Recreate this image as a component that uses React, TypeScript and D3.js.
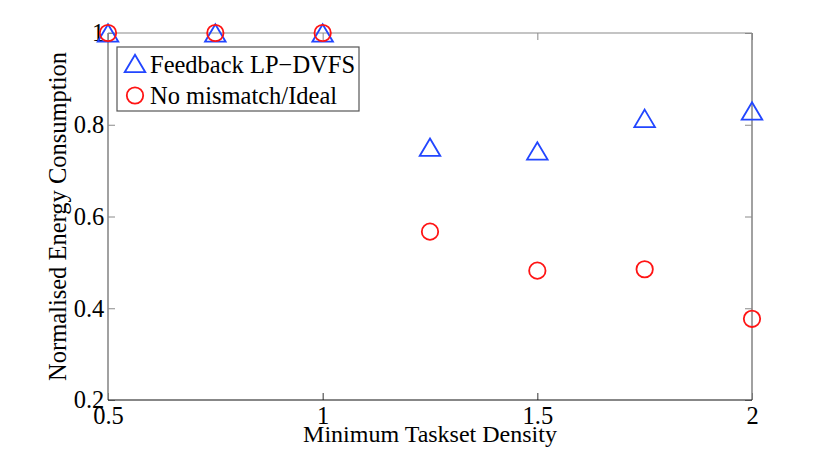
import { useRef, useEffect } from 'react'
import * as d3 from 'd3'

const densities = [0.5, 0.75, 1, 1.25, 1.5, 1.75, 2]
const feedbackEnergy = [1, 1, 1, 0.751, 0.743, 0.814, 0.83]
const idealEnergy = [1, 1, 1, 0.567, 0.482, 0.485, 0.377]
const xTicks = [0.5, 1, 1.5, 2]
const yTicks = [0.2, 0.4, 0.6, 0.8, 1]
const seriesNames = ['Feedback LP\u2212DVFS', 'No mismatch/Ideal']

const W = 830
const H = 451
const FONT = '"Liberation Serif", "Times New Roman", serif'
const BLUE = '#2246ff'
const RED = '#ff1414'
const FRAME = '#8a8a8a'

// matlab-ish '^' marker, bbox centred on the point
const trianglePath = 'M0,-8.7L10.3,8.7L-10.3,8.7Z'

export default function App() {
  const svgRef = useRef<SVGSVGElement>(null)

  useEffect(() => {
    if (!svgRef.current) return
    const svg = d3.select(svgRef.current)
    svg.selectAll('*').remove()

    const margin = { top: 33, right: 78, bottom: 51, left: 108 }
    const x = d3.scaleLinear().domain([0.5, 2]).range([margin.left, W - margin.right])
    const y = d3.scaleLinear().domain([0.2, 1]).range([H - margin.bottom, margin.top])
    const [x0, x1] = x.range()
    const [y0, y1] = y.range()

    svg.append('rect').attr('width', W).attr('height', H).attr('fill', '#fff')

    // Axes (ticks pointing inward)
    const left = svg.append('g')
      .attr('transform', `translate(${x0},0)`)
      .call(d3.axisLeft(y).tickValues(yTicks).tickFormat(d3.format('~g')).tickSize(-7).tickSizeOuter(0).tickPadding(3.7))
    const bottom = svg.append('g')
      .attr('transform', `translate(0,${y0})`)
      .call(d3.axisBottom(x).tickValues(xTicks).tickFormat(d3.format('~g')).tickSize(-7).tickSizeOuter(0).tickPadding(6.5))
    const right = svg.append('g')
      .attr('transform', `translate(${x1},0)`)
      .call(d3.axisRight(y).tickValues(yTicks).tickFormat(() => '').tickSize(-7).tickSizeOuter(0))
    const top = svg.append('g')
      .attr('transform', `translate(0,${y1})`)
      .call(d3.axisTop(x).tickValues(xTicks).tickFormat(() => '').tickSize(-7).tickSizeOuter(0))

    for (const g of [left, bottom, right, top]) {
      g.attr('font-family', FONT).attr('font-size', 24.5)
      g.select('.domain').remove()
      g.selectAll('.tick line').attr('stroke', FRAME)
      g.selectAll('text')
        .attr('fill', '#000')
        .attr('font-family', FONT)
        .attr('font-size', 24.5)
    }
    bottom.selectAll('.tick line').attr('stroke', '#333')

    // Frame
    svg.append('line').attr('x1', x0).attr('x2', x1).attr('y1', y1).attr('y2', y1)
      .attr('stroke', FRAME).attr('stroke-width', 1.2)
    svg.append('line').attr('x1', x0).attr('x2', x0).attr('y1', y1).attr('y2', y0)
      .attr('stroke', FRAME).attr('stroke-width', 1.6)
    svg.append('line').attr('x1', x1).attr('x2', x1).attr('y1', y1).attr('y2', y0)
      .attr('stroke', FRAME).attr('stroke-width', 1.6)
    svg.append('line').attr('x1', x0).attr('x2', x1).attr('y1', y0).attr('y2', y0)
      .attr('stroke', '#111').attr('stroke-width', 1.2)

    // Axis labels
    svg.append('text')
      .attr('x', (x0 + x1) / 2)
      .attr('y', 442)
      .attr('text-anchor', 'middle')
      .attr('font-family', FONT)
      .attr('font-size', 24)
      .text('Minimum Taskset Density')

    svg.append('text')
      .attr('transform', `translate(66,${(y0 + y1) / 2}) rotate(-90)`)
      .attr('text-anchor', 'middle')
      .attr('font-family', FONT)
      .attr('font-size', 24.5)
      .text('Normalised Energy Consumption')

    // Markers
    svg.append('g')
      .selectAll('path')
      .data(densities)
      .join('path')
      .attr('d', trianglePath)
      .attr('transform', (d, i) => `translate(${x(d)},${y(feedbackEnergy[i])})`)
      .attr('fill', 'none')
      .attr('stroke', BLUE)
      .attr('stroke-width', 1.8)

    svg.append('g')
      .selectAll('circle')
      .data(densities)
      .join('circle')
      .attr('cx', d => x(d))
      .attr('cy', (d, i) => y(idealEnergy[i]))
      .attr('r', 8.2)
      .attr('fill', 'none')
      .attr('stroke', RED)
      .attr('stroke-width', 1.8)

    // Legend
    const legend = svg.append('g').attr('transform', 'translate(117,47)')
    legend.append('rect')
      .attr('width', 242)
      .attr('height', 64)
      .attr('fill', '#fff')
      .attr('stroke', '#555')
      .attr('stroke-width', 1.2)

    legend.append('path')
      .attr('d', trianglePath)
      .attr('transform', 'translate(18,16.5)')
      .attr('fill', 'none')
      .attr('stroke', BLUE)
      .attr('stroke-width', 1.8)
    legend.append('circle')
      .attr('cx', 18)
      .attr('cy', 48.5)
      .attr('r', 8.2)
      .attr('fill', 'none')
      .attr('stroke', RED)
      .attr('stroke-width', 1.8)

    legend.selectAll('text.entry')
      .data(seriesNames)
      .join('text')
      .attr('class', 'entry')
      .attr('x', 33)
      .attr('y', (d, i) => 26 + i * 30.5)
      .attr('font-family', FONT)
      .attr('font-size', 24.5)
      .text(d => d)
  }, [])

  return (
    <svg
      ref={svgRef}
      width={W}
      height={H}
      style={{ position: 'absolute', left: 0, top: 0, display: 'block' }}
    />
  )
}
